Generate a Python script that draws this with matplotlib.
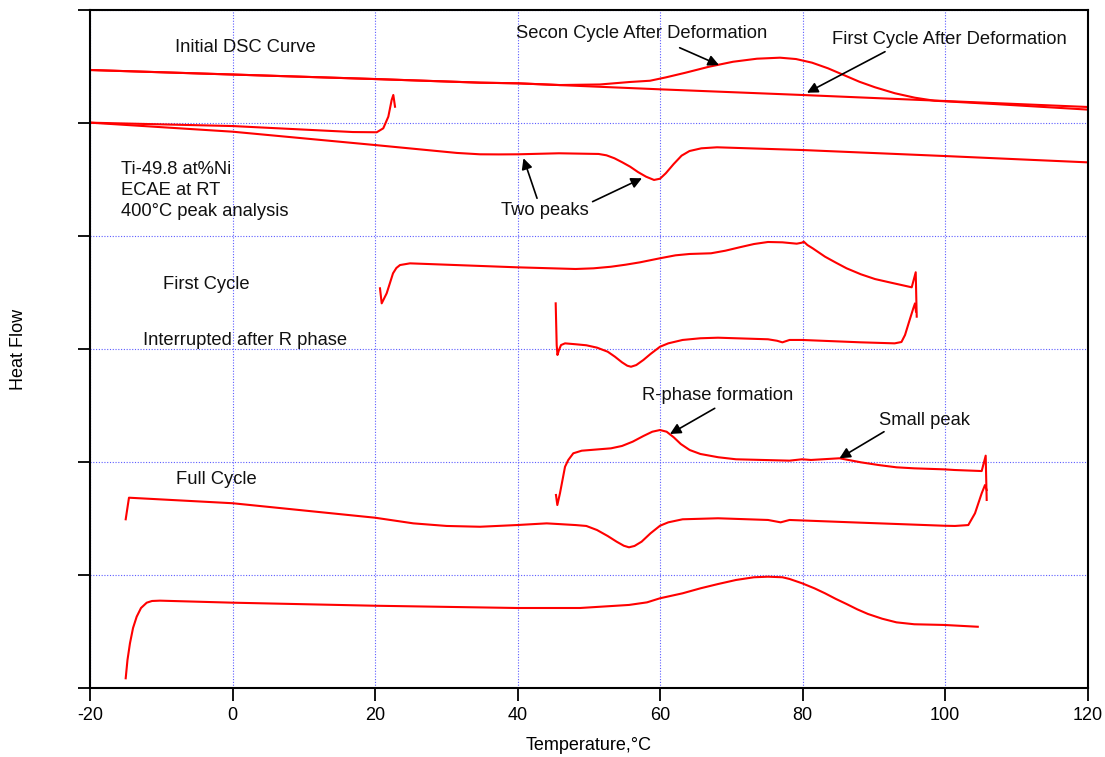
import numpy as np
import matplotlib
matplotlib.use("Agg")
import matplotlib.pyplot as plt
from matplotlib import font_manager

plt.rcParams['font.family'] = ['Liberation Sans', 'DejaVu Sans']
plt.rcParams['axes.unicode_minus'] = False

# axis text in the original is a narrow sans
installed = {f.name for f in font_manager.fontManager.ttflist}
if 'Liberation Sans Narrow' in installed:
    axis_font, axis_size = ['Liberation Sans Narrow', 'DejaVu Sans'], 16
else:
    axis_font, axis_size = ['Liberation Sans', 'DejaVu Sans'], 13

# DSC curves, temperature (C) vs heat flow (arbitrary, stacked)
first_after_def_t = [-20, 20, 34.74, 40.07, 60.0, 79.93, 99.86, 119.93]
first_after_def_h = [5.469, 5.389, 5.357, 5.351, 5.298, 5.248, 5.195, 5.142]

second_after_def_t = [-20, 20, 34.74, 40.07, 45.96, 51.58, 55.79, 58.60, 60.84, 63.58, 66.88,
                      70.25, 73.61, 76.84, 79.09, 81.33, 83.58, 85.77, 87.99, 90.18, 92.98,
                      95.76, 98.53, 106.88, 119.93]
second_after_def_h = [5.469, 5.389, 5.357, 5.351, 5.336, 5.341, 5.363, 5.374, 5.404, 5.445, 5.498,
                      5.542, 5.569, 5.578, 5.566, 5.534, 5.484, 5.425, 5.365, 5.316, 5.263,
                      5.224, 5.197, 5.168, 5.119]

initial_cool_t = [-20, 0.03, 16.91, 20.24, 21.16, 21.87, 22.34, 22.57, 22.81]
initial_cool_h = [5.003, 4.973, 4.920, 4.918, 4.953, 5.056, 5.204, 5.248, 5.144]

initial_heat_t = [-20, 0.03, 20, 31.5, 34.74, 37.4, 40.07, 45.82, 51.38, 52.49, 53.60, 54.71, 55.82,
                  56.91, 58.04, 59.16, 60.0, 60.81, 61.92, 63.03, 64.14, 65.80, 68.0, 79.93,
                  99.86, 119.93]
initial_heat_h = [5.003, 4.923, 4.805, 4.735, 4.723, 4.722, 4.723, 4.732, 4.726, 4.714, 4.688,
                  4.652, 4.613, 4.566, 4.525, 4.496, 4.507, 4.555, 4.637, 4.711, 4.752, 4.776,
                  4.785, 4.761, 4.708, 4.652]

first_cycle_t = [20.70, 20.94, 21.64, 22.53, 23.0, 23.51, 24.91, 39.89, 48.15, 50.67, 53.12, 55.17,
                 57.19, 60.0, 62.18, 64.17, 67.16, 69.18, 71.17, 73.19, 75.16, 77.18, 79.19,
                 79.93, 80.18, 80.69, 81.43, 83.16, 84.69, 86.19, 88.20, 90.18, 92.20, 95.33,
                 95.89, 96.03]
first_cycle_h = [3.537, 3.404, 3.493, 3.670, 3.717, 3.743, 3.758, 3.723, 3.708, 3.714, 3.728, 3.746,
                 3.767, 3.803, 3.829, 3.841, 3.847, 3.870, 3.900, 3.929, 3.947, 3.944, 3.932,
                 3.941, 3.950, 3.920, 3.891, 3.817, 3.764, 3.714, 3.661, 3.619, 3.590, 3.546,
                 3.679, 3.286]

interrupted_t = [45.36, 45.50, 45.61, 45.82, 46.11, 46.67, 48.15, 49.66, 51.16, 52.66, 53.67, 54.67,
                 55.41, 55.93, 56.67, 57.67, 58.67, 60.0, 61.16, 63.17, 65.67, 68.14, 75.16,
                 76.42, 77.18, 78.18, 79.93, 88.21, 92.94, 93.89, 94.39, 94.95, 95.55, 95.79, 95.93]
interrupted_h = [3.404, 3.035, 2.947, 2.991, 3.035, 3.050, 3.042, 3.033, 3.012, 2.976, 2.932, 2.882,
                 2.852, 2.843, 2.858, 2.903, 2.956, 3.020, 3.050, 3.080, 3.095, 3.100, 3.086,
                 3.073, 3.059, 3.080, 3.080, 3.059, 3.050, 3.062, 3.124, 3.239, 3.360, 3.404, 3.330]

rphase_t = [45.40, 45.59, 45.96, 46.67, 47.13, 47.83, 49.01, 53.12, 54.67, 56.17, 57.67, 58.92,
            60.0, 60.93, 61.92, 62.92, 64.17, 65.67, 68.18, 70.67, 78.18, 79.93, 81.19, 85.19,
            88.21, 90.70, 93.19, 95.65, 99.86, 101.40, 105.15, 105.71, 105.85]
rphase_h = [1.708, 1.619, 1.723, 1.958, 2.018, 2.077, 2.100, 2.121, 2.142, 2.180, 2.230, 2.268,
            2.283, 2.268, 2.219, 2.159, 2.106, 2.071, 2.042, 2.024, 2.012, 2.024, 2.018, 2.033,
            1.997, 1.973, 1.953, 1.944, 1.935, 1.929, 1.920, 2.056, 1.664]

full_heat_t = [-14.99, -14.53, 0.03, 20.0, 25.38, 30.06, 34.74, 39.89, 44.10, 48.15, 49.66, 51.16,
               52.66, 53.91, 54.92, 55.65, 56.42, 57.42, 58.67, 60.0, 61.16, 63.17, 68.14, 75.16,
               76.93, 78.18, 88.21, 99.86, 101.40, 103.27, 104.21, 105.15, 105.61, 105.85]
full_heat_h = [1.493, 1.684, 1.635, 1.507, 1.457, 1.434, 1.427, 1.442, 1.457, 1.442, 1.434, 1.398,
               1.345, 1.295, 1.259, 1.245, 1.257, 1.295, 1.369, 1.436, 1.466, 1.493, 1.502, 1.487,
               1.466, 1.487, 1.463, 1.436, 1.434, 1.442, 1.546, 1.723, 1.796, 1.752]

full_cool_t = [-14.99, -14.74, -14.39, -13.96, -13.45, -12.84, -12.04, -11.30, -10.18, 0.03, 20.0,
               39.89, 48.77, 55.65, 58.18, 60.0, 63.17, 65.67, 68.14, 70.67, 73.19, 75.16, 77.18,
               78.18, 79.93, 81.68, 83.16, 84.69, 86.19, 87.69, 89.19, 91.19, 93.19, 95.69,
               99.86, 104.60]
full_cool_h = [0.086, 0.248, 0.396, 0.531, 0.631, 0.708, 0.755, 0.770, 0.773, 0.755, 0.728,
               0.708, 0.708, 0.735, 0.758, 0.794, 0.838, 0.882, 0.920, 0.956, 0.980, 0.985, 0.980,
               0.965, 0.927, 0.882, 0.838, 0.788, 0.743, 0.696, 0.655, 0.613, 0.581, 0.564,
               0.558, 0.542]

curves = [
    (first_after_def_t, first_after_def_h),
    (second_after_def_t, second_after_def_h),
    (initial_cool_t, initial_cool_h),
    (initial_heat_t, initial_heat_h),
    (first_cycle_t, first_cycle_h),
    (interrupted_t, interrupted_h),
    (rphase_t, rphase_h),
    (full_heat_t, full_heat_h),
    (full_cool_t, full_cool_h),
]

# labels: text, x, y, horizontal alignment
labels = [
    ("Initial DSC Curve", 1.75, 5.664, "center"),
    ("Secon Cycle After Deformation", 57.49, 5.790, "center"),
    ("First Cycle After Deformation", 100.56, 5.740, "center"),
    ("Ti-49.8 at%Ni\nECAE at RT\n400°C peak analysis", -15.69, 4.40, "left"),
    ("Two peaks", 43.79, 4.224, "center"),
    ("First Cycle", -3.72, 3.572, "center"),
    ("Interrupted after R phase", 1.82, 3.074, "center"),
    ("R-phase formation", 68.14, 2.587, "center"),
    ("Small peak", 97.15, 2.366, "center"),
    ("Full Cycle", -2.32, 1.841, "center"),
]

# arrows: (tail x, tail y, head x, head y)
arrows = [
    (62.76, 5.666, 68.28, 5.513),
    (91.58, 5.631, 80.63, 5.268),
    (42.74, 4.334, 40.84, 4.688),
    (50.54, 4.304, 57.47, 4.511),
    (67.68, 2.475, 61.40, 2.248),
    (91.44, 2.268, 85.19, 2.033),
]

fig = plt.figure(figsize=(11.05, 7.57), dpi=100)
ax = fig.add_axes([90 / 1105, 69 / 757, 997.5 / 1105, 678 / 757])

for t, h in curves:
    ax.plot(t, h, color="#ff0000", lw=1.5)

for txt, x, y, ha in labels:
    ax.text(x, y, txt, ha=ha, va="center", fontsize=13.2, linespacing=1.3, color="#111111")

for x0, y0, x1, y1 in arrows:
    ax.annotate("", xy=(x1, y1), xytext=(x0, y0),
                arrowprops=dict(arrowstyle="-|>", color="black", lw=1.2,
                                mutation_scale=16, shrinkA=0, shrinkB=0))

ax.set_xlim(-20, 120)
ax.set_ylim(0, 6)
ax.set_xticks(np.arange(-20, 121, 20))
ax.set_yticks(np.arange(0, 7, 1))
ax.set_yticklabels([])
ax.tick_params(direction="out", length=9, width=1.3, pad=5)
for lab in ax.get_xticklabels():
    lab.set_family(axis_font)
    lab.set_fontsize(axis_size)
ax.grid(True, color="#5c5cff", linestyle=(0, (1, 1.5)), lw=0.8)
for s in ax.spines.values():
    s.set_linewidth(1.5)

ax.set_xlabel("Temperature,°C", family=axis_font, fontsize=axis_size)
ax.set_ylabel("Heat Flow", family=axis_font, fontsize=axis_size)
ax.xaxis.set_label_coords(0.5, -0.072)
ax.yaxis.set_label_coords(-0.063, 0.5)

fig.savefig("out.png", dpi=100)
